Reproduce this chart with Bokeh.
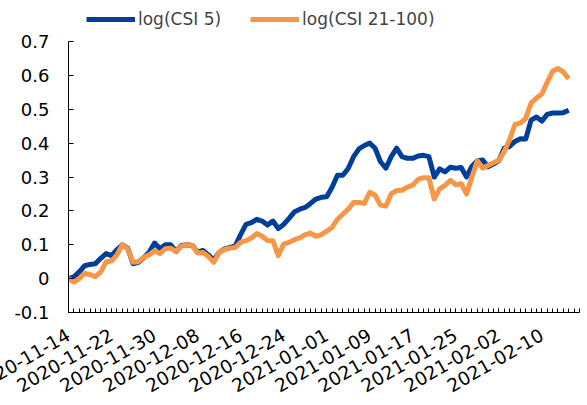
import pandas as pd
from bokeh.plotting import figure
from bokeh.models import FixedTicker, DatetimeTickFormatter, Legend, LegendItem, Range1d
from bokeh.embed import file_html
from bokeh.resources import INLINE

start_date = "2020-11-14"
csi5 = [0.0, 0.005, 0.02, 0.038, 0.042, 0.044, 0.06, 0.074, 0.068, 0.085,
        0.1, 0.09, 0.044, 0.048, 0.062, 0.078, 0.105, 0.088, 0.1, 0.1,
        0.08, 0.098, 0.1, 0.098, 0.078, 0.083, 0.07, 0.055, 0.077, 0.088,
        0.092, 0.097, 0.13, 0.16, 0.165, 0.175, 0.17, 0.158, 0.17, 0.148,
        0.16, 0.178, 0.197, 0.205, 0.21, 0.222, 0.235, 0.24, 0.242, 0.27,
        0.305, 0.305, 0.325, 0.36, 0.383, 0.393, 0.4, 0.385, 0.345, 0.326,
        0.36, 0.385, 0.36, 0.355, 0.355, 0.362, 0.364, 0.36, 0.3, 0.324,
        0.315, 0.329, 0.326, 0.328, 0.3, 0.332, 0.348, 0.35, 0.33, 0.338,
        0.348, 0.385, 0.39, 0.405, 0.413, 0.412, 0.468, 0.477, 0.465, 0.485,
        0.489, 0.489, 0.49, 0.497]
csi21_100 = [0.0, -0.01, 0.0, 0.015, 0.012, 0.006, 0.02, 0.05, 0.052, 0.07,
             0.1, 0.088, 0.048, 0.05, 0.063, 0.07, 0.082, 0.074, 0.088, 0.09,
             0.08, 0.096, 0.1, 0.098, 0.076, 0.077, 0.065, 0.048, 0.077, 0.086,
             0.09, 0.092, 0.107, 0.112, 0.12, 0.133, 0.125, 0.112, 0.112, 0.068,
             0.102, 0.107, 0.115, 0.12, 0.13, 0.134, 0.125, 0.13, 0.14, 0.151,
             0.175, 0.19, 0.205, 0.225, 0.225, 0.222, 0.255, 0.246, 0.217, 0.214,
             0.25, 0.26, 0.261, 0.27, 0.276, 0.293, 0.298, 0.298, 0.235, 0.265,
             0.275, 0.29, 0.277, 0.28, 0.25, 0.3, 0.348, 0.326, 0.334, 0.342,
             0.349, 0.375, 0.41, 0.455, 0.459, 0.473, 0.518, 0.533, 0.545, 0.58,
             0.612, 0.62, 0.61, 0.59]
tick_labels = ["2020-11-14", "2020-11-22", "2020-11-30", "2020-12-08", "2020-12-16",
               "2020-12-24", "2021-01-01", "2021-01-09", "2021-01-17", "2021-01-25",
               "2021-02-02", "2021-02-10"]
y_ticks = [-0.1, 0, 0.1, 0.2, 0.3, 0.4, 0.5, 0.6, 0.7]
y_min, y_max = -0.1, 0.7

dates = pd.date_range(start_date, periods=len(csi5), freq="D")
x_start = pd.Timestamp(start_date)
x_end = x_start + pd.Timedelta(days=95)

def ms(ts):
    return ts.value / 1e6

FONT = "DejaVu Sans"
BLUE = "#003F98"
ORANGE = "#F79646"

# frame occupies the full height above the x axis; the y axis line is bounded to [y_min, y_max]
frame_h = 312
axis_px = 271
y_top = y_max + (frame_h - axis_px) * (y_max - y_min) / axis_px
shift = 40  # canvas extends past the left window edge so the first date label is cut like the original

p = figure(width=584 + shift, height=402, x_axis_type="datetime",
           output_backend="svg", toolbar_location=None,
           x_range=Range1d(ms(x_start), ms(x_end)), y_range=Range1d(y_min, y_top),
           min_border_left=68 + shift, min_border_right=5, min_border_top=0, min_border_bottom=90)
p.styles = {"margin-left": f"-{shift}px"}
p.outline_line_color = None
p.xgrid.visible = False
p.ygrid.visible = False

r1 = p.line(dates, csi5, line_color=BLUE, line_width=5, line_join="round")
r2 = p.line(dates, csi21_100, line_color=ORANGE, line_width=5, line_join="round")

major = [ms(pd.Timestamp(t)) for t in tick_labels]
minor = [ms(x_start + pd.Timedelta(days=i)) for i in range(0, 96)]
p.xaxis.ticker = FixedTicker(ticks=major, minor_ticks=minor)
p.xaxis.formatter = DatetimeTickFormatter(days="%Y-%m-%d", months="%Y-%m-%d", years="%Y-%m-%d")
p.xaxis.major_label_orientation = 0.5236
p.xaxis.major_label_text_font = FONT
p.xaxis.major_label_text_font_size = "18.5px"
p.xaxis.major_label_text_color = "#000000"
p.xaxis.major_tick_in = 4
p.xaxis.major_tick_out = 0
p.xaxis.minor_tick_in = 4
p.xaxis.minor_tick_out = 0
p.xaxis.axis_line_color = "#000000"
p.xaxis.major_label_standoff = 21

p.yaxis.ticker = FixedTicker(ticks=y_ticks)
p.yaxis.bounds = (y_min, y_max)
p.yaxis.major_label_overrides = {-0.1: "-0.1", 0: "0", 0.1: "0.1", 0.2: "0.2", 0.3: "0.3",
                                 0.4: "0.4", 0.5: "0.5", 0.6: "0.6", 0.7: "0.7"}
p.yaxis.major_label_text_font = FONT
p.yaxis.major_label_text_font_size = "18px"
p.yaxis.major_label_text_color = "#000000"
p.yaxis.major_tick_in = 5
p.yaxis.major_tick_out = 0
p.yaxis.minor_tick_line_color = None
p.yaxis.axis_line_color = "#000000"
p.yaxis.major_label_standoff = 19

legend = Legend(items=[LegendItem(label="log(CSI 5)", renderers=[r1]),
                       LegendItem(label="log(CSI 21-100)", renderers=[r2])],
                orientation="horizontal", location=(18, 283),
                border_line_color=None, background_fill_alpha=0,
                label_text_font=FONT, label_text_font_size="17px",
                glyph_width=49, glyph_height=16, spacing=29, label_standoff=3,
                padding=0, margin=0)
p.add_layout(legend, "center")

open("out.html", "w").write(file_html(p, INLINE))
